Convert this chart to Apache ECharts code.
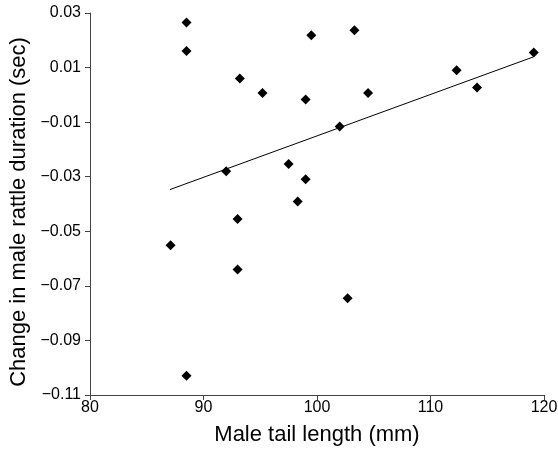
<!DOCTYPE html>
<html><head><meta charset="utf-8">
<script src="https://cdn.jsdelivr.net/npm/echarts@6/dist/echarts.min.js"></script>
<style>html,body{margin:0;padding:0;background:#fff}#c{width:558px;height:449px}</style>
</head><body><div id="c"></div>
<script>
const tailLength = [88.5, 88.5, 93.2, 95.2, 92.0, 93.0, 99.5, 103.3, 119.1, 112.3, 114.1, 99.0, 104.5, 102.0, 97.5, 99.0, 98.3, 87.1, 93.0, 88.5, 102.7];
const rattleChange = [0.0265, 0.0161, 0.0060, 0.0007, -0.0280, -0.0455, 0.0218, 0.0237, 0.0155, 0.0090, 0.0027, -0.0017, 0.0007, -0.0116, -0.0253, -0.0309, -0.0391, -0.0551, -0.0640, -0.1029, -0.0745];
const trendX = [87.05, 119.06];
const trendY = [-0.0347, 0.0139];
const xTitle = 'Male tail length (mm)';
const yTitle = 'Change in male rattle duration (sec)';

const pts = tailLength.map((x, i) => [x, rattleChange[i]]);
const trend = trendX.map((x, i) => [x, trendY[i]]);
const font = 'Liberation Sans, Arial, sans-serif';
const axisCol = '#444';
const chart = echarts.init(document.getElementById('c'), null, {renderer: 'canvas'});
chart.setOption({
  animation: false,
  grid: {left: 90, right: 14, top: 13, bottom: 54, containLabel: false, outerBoundsMode: 'none'},
  xAxis: {
    type: 'value', min: 80, max: 120, interval: 10,
    name: xTitle, nameLocation: 'middle', nameGap: 29,
    nameTextStyle: {fontFamily: font, fontSize: 22, color: '#000'},
    axisLine: {show: true, onZero: false, lineStyle: {color: axisCol, width: 1}},
    axisTick: {show: true, length: 5, lineStyle: {color: axisCol}},
    axisLabel: {fontFamily: font, fontSize: 16, color: '#000', margin: 5},
    splitLine: {show: false}
  },
  yAxis: {
    type: 'value', min: -0.11, max: 0.03, interval: 0.02,
    name: yTitle, nameLocation: 'middle', nameGap: 60,
    nameTextStyle: {fontFamily: font, fontSize: 22, color: '#000', padding: [0, 16, 0, 0]},
    axisLine: {show: true, onZero: false, lineStyle: {color: axisCol, width: 1}},
    axisTick: {show: true, length: 5, lineStyle: {color: axisCol}},
    axisLabel: {fontFamily: font, fontSize: 16, color: '#000', margin: 9,
      formatter: v => { const s = Math.abs(v).toFixed(2); return (v < -1e-9 ? '\u2212' : '') + s; }},
    splitLine: {show: false}
  },
  series: [
    {type: 'scatter', data: pts, symbol: 'diamond', symbolSize: 10, itemStyle: {color: '#000', opacity: 1}, z: 3},
    {type: 'line', data: trend, symbol: 'none', lineStyle: {color: '#000', width: 1}, z: 2}
  ]
});
</script></body></html>
